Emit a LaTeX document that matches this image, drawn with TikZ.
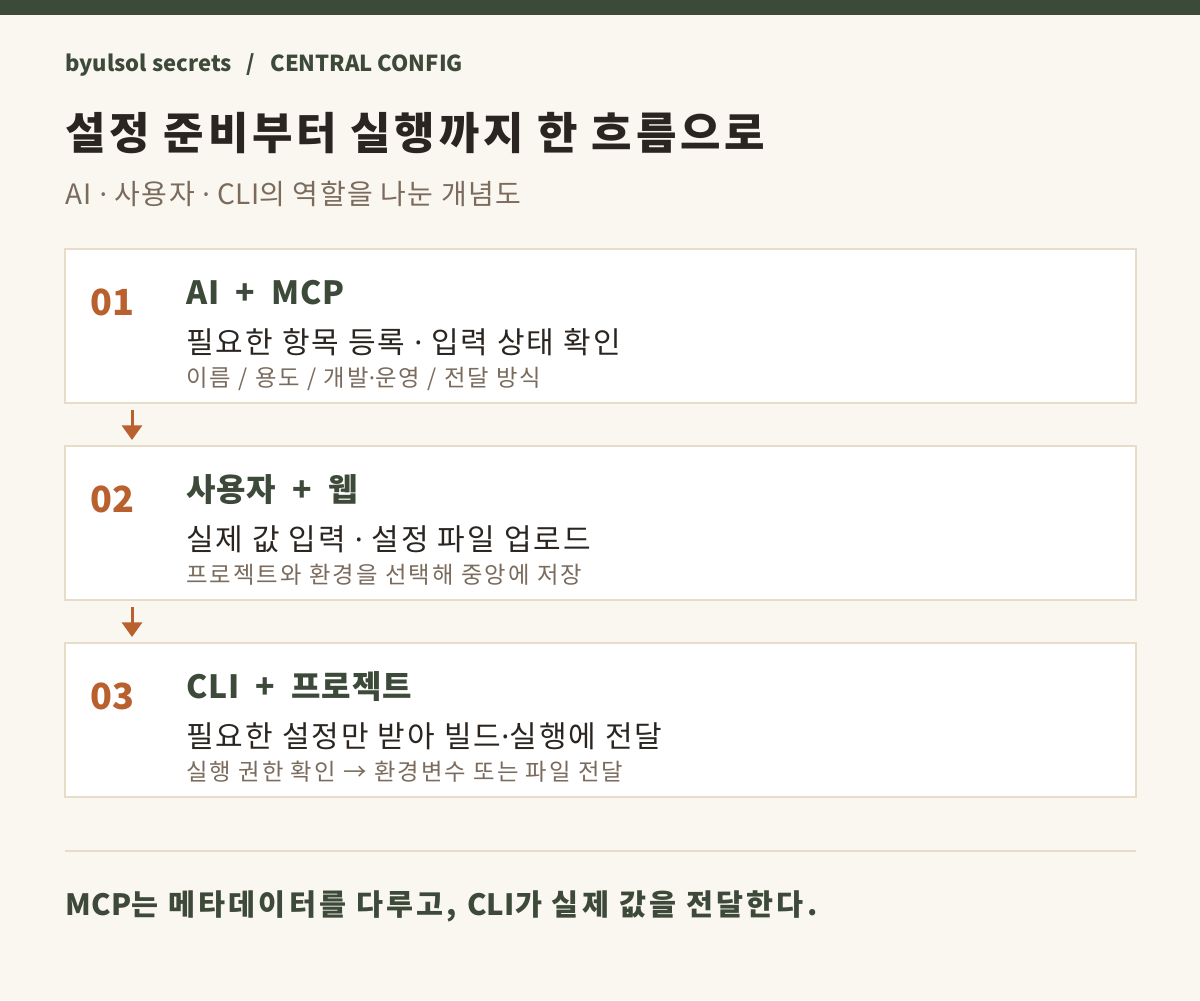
\documentclass[tikz,border=0pt]{standalone}
\usepackage{fontspec}
\setmainfont{Noto Sans CJK KR}
\newfontfamily\dotfont{Noto Sans}
\newcommand{\mdot}{{\dotfont ·}}
\newcommand{\tight}[1]{{\addfontfeature{LetterSpace=1}#1}}
\usetikzlibrary{arrows.meta,positioning}

\definecolor{pagebg}{HTML}{FAF6F0}
\definecolor{topbar}{HTML}{3C4A3A}
\definecolor{cardline}{HTML}{E6DCC8}
\definecolor{accent}{HTML}{B8602E}
\definecolor{headgreen}{HTML}{3D4A3A}
\definecolor{bodytext}{HTML}{2A2520}
\definecolor{mutedtext}{HTML}{7A6B5D}

\begin{document}
\begin{tikzpicture}[x=0.75pt, y=-0.75pt,
        card/.style={draw=cardline, line width=1.5pt, fill=white, anchor=north west, minimum width=803.25pt, minimum height=115.5pt, inner sep=0pt, outer sep=0pt},
        stepnum/.style={anchor=base west, inner sep=0pt, text=accent, font=\fontsize{27}{30}\selectfont\bfseries},
        stephead/.style={anchor=base west, inner sep=0pt, text=headgreen, font=\fontsize{24}{28}\selectfont\bfseries\addfontfeature{LetterSpace=2.5}},
        stepmain/.style={anchor=base west, inner sep=0pt, text=bodytext, font=\fontsize{22.5}{26}\selectfont\addfontfeature{LetterSpace=7}},
        stepnote/.style={anchor=base west, inner sep=0pt, text=mutedtext, font=\fontsize{17.5}{21}\selectfont\addfontfeature{LetterSpace=9}},
        flow/.style={draw=accent, line width=2.25pt, -{Triangle[width=15pt, length=11pt]}, shorten <=5.25pt, shorten >=4.5pt}
    ]
        % Page background and top bar
        \useasboundingbox (0,0) rectangle (1200,1000);
        \fill[pagebg] (0,0) rectangle (1200,1000);
        \fill[topbar] (0,0) rectangle (1200,15);

        % Header texts
        \node[anchor=base west, inner sep=0pt, text=headgreen, font=\fontsize{16.5}{20}\selectfont\bfseries] (crumb) at (65,71) {byulsol secrets~~~/~~~CENTRAL CONFIG};
        \node[anchor=base west, inner sep=0pt, text=bodytext, font=\fontsize{33}{38}\selectfont\bfseries\addfontfeature{LetterSpace=8.5}] (title) at (65,149) {설정 준비부터 실행까지 한 흐름으로};
        \node[anchor=base west, inner sep=0pt, text=mutedtext, font=\fontsize{21}{25}\selectfont\addfontfeature{LetterSpace=5}] (subtitle) at (65,204) {AI \mdot{} 사용자 \mdot{} \tight{CLI}의 역할을 나눈 개념도};

        % Step cards
        \node[card] (box1) at (65,249) {};
        \node[card] (box2) at (65,446) {};
        \node[card] (box3) at (65,643) {};

        % Step 01
        \node[stepnum] (num1) at (90,315) {01};
        \node[stephead] (head1) at (186,304) {AI ~+~ MCP};
        \node[stepmain] (main1) at (186,353) {필요한 항목 등록 \mdot{} 입력 상태 확인};
        \node[stepnote] (note1) at (186,386) {이름 / 용도 / 개발\mdot{}운영 / 전달 방식};

        % Step 02
        \node[stepnum] (num2) at (90,512) {02};
        \node[stephead] (head2) at (186,501) {사용자 ~+~ 웹};
        \node[stepmain] (main2) at (186,550) {실제 값 입력 \mdot{} 설정 파일 업로드};
        \node[stepnote] (note2) at (186,583) {프로젝트와 환경을 선택해 중앙에 저장};

        % Step 03
        \node[stepnum] (num3) at (90,709) {03};
        \node[stephead] (head3) at (186,698) {CLI ~+~ 프로젝트};
        \node[stepmain] (main3) at (186,747) {필요한 설정만 받아 빌드\mdot{}실행에 전달};
        \node[stepnote] (note3) at (186,780) {실행 권한 확인 → 환경변수 또는 파일 전달};

        % Arrows between cards
        \coordinate (arrowx) at (132,0);
        \draw[flow] (box1.south -| arrowx) -- (box2.north -| arrowx);
        \draw[flow] (box2.south -| arrowx) -- (box3.north -| arrowx);

        % Separator and footer
        \coordinate (rule_l) at (65,851);
        \coordinate (rule_r) at (1136,851);
        \draw[cardline, line width=1.5pt] (rule_l) -- (rule_r);
        \node[anchor=base west, inner sep=0pt, text=headgreen, font=\fontsize{22}{26}\selectfont\bfseries\addfontfeature{LetterSpace=11}] (footer) at (65,915) {\tight{MCP}는 메타데이터를 다루고, \tight{CLI}가 실제 값을 전달한다.};

    \end{tikzpicture}
\end{document}
